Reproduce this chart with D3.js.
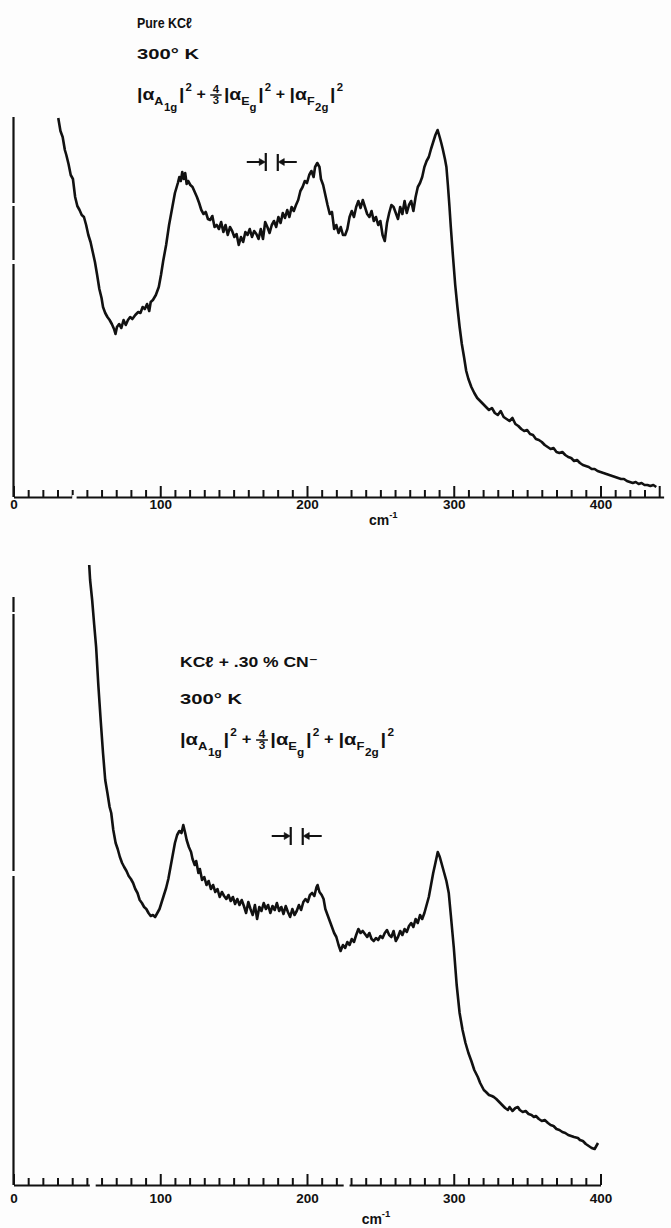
<!DOCTYPE html>
<html><head><meta charset="utf-8">
<script src="https://cdn.jsdelivr.net/npm/d3@7/dist/d3.min.js"></script>
<style>
html,body{margin:0;padding:0;background:#fdfdfd;}
svg{display:block;}
text{font-family:"Liberation Sans","DejaVu Sans",sans-serif;font-weight:bold;fill:#111;}
</style></head>
<body>
<script>
// ---------------- DATA ----------------
// wavenumber (cm^-1) and relative Raman intensity (arbitrary units)
const topWavenumber = [30.5,32,33.5,35,36,37.5,39,40.5,42,43.5,45,46.5,48,49.5,51,52.5,54,55.5,57,58.5,60,61,62.5,64,65.5,67,68.5,69.5,70.5,72,73.5,75,76.5,78,79.5,81,83,85,86.5,88,89.5,91,92.5,93.5,95,97,99,100.5,102,104,106,108,110,112,113,114,115,116,117,118,119,120.5,122,123.5,125,126.5,128,129.5,131,132.5,134,135.5,137,138.5,140,141.5,143,144.5,146,147.5,149,150.5,152,153.5,155,156.5,158,159.5,161,162.5,164,165.5,167,168.5,170,171.5,173,174.5,176,177.5,179,180.5,182,183.5,185,186.5,188,189.5,191,192.5,194,195.5,197,198.5,200,201.5,203,204.5,205.5,207,208.5,209.5,211,212.5,214,215.5,217,218.5,220,221.5,223,224.5,226,227.5,229,230.5,232,233.5,235,236.5,238,239.5,241,242.5,244,245.5,247,248.5,250,251.5,253,254.5,256,257.5,259,260.5,262,263.5,265,266.5,268,269.5,271,272.5,274,275.5,277,278.5,280,281.5,283,284.5,286,287.5,289,290.4,291.5,292.5,294,295,296,297,298,299.5,301,302.5,304,305.5,307,308.5,310,312,314,316,318,320,322,324,326,328,330,332,334,336,338,340,342,344,346,348,350,352,354,356,358,360,362,364,366,368,370,372,374,376,378,380,382,384,386,388,390,392,394,396,398,400,402,404,406,408,410,412,414,416,418,420,422,424,426,428,430,432,434,436,438,440,442];
const topIntensity = [379,366,360,347,342,333,322,318,300,291,287,282,280,272,262,255,245,235,222,208,199,190,184,180,177,173,168,163,170,173,169,177,172,177,180,178,182,185,184,190,188,193,186,195,197,202,210,222,236,252,272,288,304,314,320,316,325,318,324,313,316,312,310,305,300,294,287,283,285,278,277,281,270,272,268,275,265,272,262,270,266,260,263,252,260,255,265,262,268,260,266,263,258,268,258,275,270,264,272,276,270,280,274,284,279,287,280,290,286,292,297,306,310,316,314,322,326,320,330,334,330,318,312,302,292,283,285,268,272,264,270,262,262,268,280,286,280,290,296,289,297,290,283,280,286,276,280,272,276,262,256,274,284,292,290,284,278,290,283,296,284,292,296,286,300,310,314,320,330,336,340,348,355,362,367,360,354,348,338,330,312,292,270,240,212,190,170,153,140,126,118,110,104,99,96,93,90,87,89,84,82,86,80,78,76,79,73,71,68,66,67,63,62,58,57,55,52,50,48,49,45,44,45,42,40,39,36,37,34,32,31,30,28,28,26,25,24,23,22,21,20,19,18,18,16,15,14,15,13,14,12,12,11,12,10];

const botWavenumber = [51.6,52.2,53.6,55,56.3,57.8,59.4,61,62.5,64,65.5,66.6,68,69.6,71,72.5,74,75.4,77,78.5,80,81.5,83,84.5,86,87.5,89,90.5,92,93.5,95,96.5,98,99.5,101,102.5,104,105.5,107,108.5,110,111.5,113,114.5,115.7,117,118,119.5,121,122,123.5,124.5,126,127,128.5,130,131.5,133,134.5,136,137.5,139,140.5,142,143.5,145,146.5,148,149.5,151,152.5,154,155.5,157,158.5,160,161.5,163,164.5,166,167.5,169,170.5,172,173.5,175,176.5,178,179.5,181,182.5,184,185.5,187,188.5,190,191.5,193,194.5,196,197.5,199,200.5,202,203.5,205,206.5,207.2,208.5,210,211.3,212.5,214,215.5,217,218.5,220,221.5,222.9,224.5,226,227.5,229,230.5,232,233.5,235,236.5,238,239.5,241,242.5,244,245.5,247,248.5,250,251.5,253,254.5,256,257.5,259,260.5,262,263.5,265,266.5,268,269.5,271,272.5,274,275.5,277,278.5,280,281.5,283,284.5,286,287.5,289.1,290.5,292,293.5,295,296.6,298,300,302,304,306,308,310,312,314,316.4,318,320.5,322,324,326,327.3,329,331,333,335,336.9,338,340,342,343.7,345,347,349,351,353,354.6,356,358,360,362,364.2,366,368,370,372,374,376,378,380,382,384.6,386,388,390,392,394,396,398.3];
const botIntensity = [620,605,585,560,538,500,465,432,405,392,378,372,355,342,336,328,322,318,314,309,306,302,296,292,285,282,278,276,272,269,270,268,272,276,283,290,297,306,318,330,342,350,354,352,360,352,345,338,333,326,320,324,312,316,305,308,300,304,296,300,293,296,288,293,289,286,290,284,288,281,286,280,285,279,272,283,276,270,280,266,278,274,282,276,280,272,279,275,282,274,278,271,279,273,268,276,270,274,280,275,283,286,283,290,292,289,298,300,293,290,286,276,270,264,258,252,248,240,234,240,237,243,240,246,243,250,256,252,254,251,248,252,246,244,247,245,249,247,252,255,250,248,254,244,248,254,250,256,253,259,262,258,266,262,270,266,272,280,288,300,312,322,333,328,320,312,304,292,270,238,200,172,155,142,132,124,115,108,102,95,93,90,89,88,86,83,80,77,75,78,74,77,78,75,73,74,71,70,68,69,66,64,65,62,60,59,56,55,53,52,50,49,48,47,45,44,41,39,37,36,42];

const tickLabels = ["0","100","200","300","400"];
const topTitle = ["Pure KC\u2113", "300\u00B0 K"];
const botTitle = ["KC\u2113 + .30 % CN\u207B", "300\u00B0 K"];
const axisUnit = "cm";

// ---------------- DRAW ----------------
const W = 671, H = 1228;
const svg = d3.select("body").append("svg").attr("width", W).attr("height", H);
const k = 587/400;
const INK = "#111";

const xTop = d3.scaleLinear().domain([0,443]).range([13.5, 13.5+443*k]);
const yTop = d3.scaleLinear().domain([0,380]).range([497,117]);
const xBot = d3.scaleLinear().domain([0,400]).range([13.5, 600.5]);
const yBot = d3.scaleLinear().domain([0,620]).range([1185,565]);

function drawPanel(x, y, xs, ys, maxTick, yTopVal, yGaps, xGaps, unitX, labelY, unitY) {
  const g = svg.append("g");
  // y axis line with small breaks (gaps listed from top to bottom)
  const y0 = y(0);
  let cur = y(yTopVal);
  const segs = [];
  yGaps.forEach(gp => { segs.push([cur, y(gp[0])]); cur = y(gp[1]); });
  segs.push([cur, y0]);
  segs.forEach(s => g.append("line").attr("x1", x(0)).attr("x2", x(0)).attr("y1", s[0]).attr("y2", s[1])
      .attr("stroke", INK).attr("stroke-width", 2.2));
  // x axis
  const ax = d3.axisBottom(x).tickValues(d3.range(0, maxTick+1, 10)).tickSize(-6).tickSizeOuter(0)
      .tickFormat(d => d % 100 === 0 && d <= 400 ? tickLabels[d/100] : "");
  const axg = g.append("g").attr("transform", `translate(0,${y0})`).call(ax);
  axg.select(".domain").attr("stroke", INK).attr("stroke-width", 2.2);
  axg.selectAll(".tick line").attr("stroke", INK).attr("stroke-width", 2)
     .attr("y2", d => (d % 100 === 0 || d === maxTick) ? -11 : -7);
  axg.selectAll(".tick text").attr("y", labelY - y0).attr("dy", 0).attr("font-size", 13.5)
     .attr("font-family", "Liberation Sans, DejaVu Sans, sans-serif").attr("font-weight", "bold").attr("fill", INK);
  // gaps in the x baseline
  xGaps.forEach(gp => g.append("rect").attr("x", x(gp[0])).attr("y", y0-2).attr("width", x(gp[1])-x(gp[0])).attr("height", 4).attr("fill", "#fdfdfd"));
  // unit label
  const t = g.append("text").attr("x", x(unitX)).attr("y", unitY).attr("font-size", 14).attr("text-anchor", "middle");
  t.append("tspan").text(axisUnit);
  t.append("tspan").attr("dy", -7).attr("font-size", 9.5).text("-1");
  // curve
  g.append("path").datum(xs.map((v,i) => [v, ys[i]]))
    .attr("d", d3.line().x(d => x(d[0])).y(d => y(d[1])))
    .attr("fill", "none").attr("stroke", INK).attr("stroke-width", 2.6).attr("stroke-linejoin", "round");
  return g;
}

drawPanel(xTop, yTop, topWavenumber, topIntensity, 440, 380, [[294,291],[237,233]], [[40,43]], 252, 509, 525);
drawPanel(xBot, yBot, botWavenumber, botIntensity, 400, 588, [[573,571],[314,309]], [[52,56],[225,229]], 247, 1203, 1224);

// resolution marker  ->| |<-
function marker(cx, cy) {
  const g = svg.append("g").attr("stroke", INK).attr("fill", INK);
  g.append("line").attr("x1", cx-25).attr("x2", cx-10).attr("y1", cy).attr("y2", cy).attr("stroke-width", 2);
  g.append("path").attr("d", `M${cx-6.5},${cy} l-6,-3.5 l0,7 z`).attr("stroke-width", 0.6);
  g.append("line").attr("x1", cx-6).attr("x2", cx-6).attr("y1", cy-9).attr("y2", cy+9).attr("stroke-width", 2.2);
  g.append("line").attr("x1", cx+6).attr("x2", cx+6).attr("y1", cy-8).attr("y2", cy+9).attr("stroke-width", 2.2);
  g.append("path").attr("d", `M${cx+6.5},${cy} l6,-3.5 l0,7 z`).attr("stroke-width", 0.6);
  g.append("line").attr("x1", cx+10).attr("x2", cx+25).attr("y1", cy).attr("y2", cy).attr("stroke-width", 2);
}
marker(xTop(176), yTop(335));
marker(xBot(193), yBot(349));

// titles and formula
function titleBlock(x0, lines, widths, ys, fy, fWidth) {
  lines.forEach((s, i) => svg.append("text").attr("x", x0).attr("y", ys[i]).attr("font-size", 15)
     .attr("textLength", widths[i]).attr("lengthAdjust", "spacingAndGlyphs").text(s));
  // formula |a_A1g|^2 + 4/3 |a_Eg|^2 + |a_F2g|^2
  const fg = svg.append("g");
  let cx = 0;
  const pieces = [
    {t:"|\u03B1", s:17, dy:0}, {t:"A", s:11, dy:5}, {t:"1g", s:10, dy:11, g:0.5}, {t:"|", s:17, dy:0, g:1.5}, {t:"2", s:10, dy:-9, g:1},
    {t:"+", s:14, dy:-1, g:4, a:4}, {frac:true},
    {t:"|\u03B1", s:17, dy:0, g:1}, {t:"E", s:11, dy:5}, {t:"g", s:10, dy:11}, {t:"|", s:17, dy:0, g:1.5}, {t:"2", s:10, dy:-9, g:1},
    {t:"+", s:14, dy:-1, g:4, a:4},
    {t:"|\u03B1", s:17, dy:0}, {t:"F", s:11, dy:5}, {t:"2g", s:10, dy:11, g:0.5}, {t:"|", s:17, dy:0, g:1.5}, {t:"2", s:10, dy:-9, g:1}
  ];
  pieces.forEach(p => {
    if (p.frac) {
      fg.append("text").attr("x", cx+5).attr("y", -7).attr("font-size", 10).attr("text-anchor", "middle").text("4");
      fg.append("line").attr("x1", cx).attr("x2", cx+10).attr("y1", -5).attr("y2", -5).attr("stroke", INK).attr("stroke-width", 1.5);
      fg.append("text").attr("x", cx+5).attr("y", 4).attr("font-size", 10).attr("text-anchor", "middle").text("3");
      cx += 11;
      return;
    }
    cx += (p.g || 0);
    const t = fg.append("text").attr("x", cx).attr("y", p.dy).attr("font-size", p.s).text(p.t);
    cx += t.node().getComputedTextLength() + (p.a || 0);
  });
  fg.attr("transform", `translate(${x0},${fy}) scale(${fWidth/cx},1)`);
}
titleBlock(137, topTitle, [55, 62], [28, 59], 100, 206);
titleBlock(180, botTitle, [138, 62], [667, 704], 745, 214);
</script>
</body></html>
